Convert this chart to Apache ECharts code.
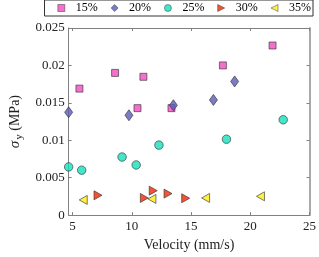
<!DOCTYPE html>
<html><head><meta charset="utf-8">
<script src="https://cdn.jsdelivr.net/npm/echarts@6/dist/echarts.min.js"></script>
<style>html,body{margin:0;padding:0;background:#fff}#c{width:319px;height:257px}</style>
</head><body><div id="c"></div>
<script>
const seriesNames = ['15%', '20%', '25%', '30%', '35%'];
const v15 = [5.58, 8.59, 10.98, 10.48, 13.35, 17.69, 21.88];
const s15 = [0.0169, 0.0190, 0.01848, 0.01429, 0.01429, 0.0200, 0.02266];
const v20 = [4.67, 9.76, 13.51, 16.89, 18.68];
const s20 = [0.01374, 0.01334, 0.01468, 0.01539, 0.01786];
const v25 = [4.67, 5.77, 9.18, 10.37, 12.29, 17.99, 22.78];
const s25 = [0.00644, 0.00600, 0.00776, 0.00670, 0.00935, 0.01014, 0.01274];
const v30 = [7.15, 11.06, 11.81, 13.06, 14.55];
const s30 = [0.00265, 0.00229, 0.00327, 0.00287, 0.00225];
const v35 = [5.90, 11.70, 16.23, 20.86];
const s35 = [0.00203, 0.00216, 0.00229, 0.00251];
const xTicks = [5, 10, 15, 20, 25];

const zip = (a, b) => a.map((x, i) => [x, b[i]]);
const font = 'Liberation Serif';
const axisCol = '#808080';
const triRight = 'path://M0,0 L10,5 L0,10 Z';
const triLeft = 'path://M10,0 L0,5 L10,10 Z';
const chart = echarts.init(document.getElementById('c'), null, {renderer: 'canvas'});
const mk = (name, data, symbol, size, color) => ({
  name, type: 'scatter', data, symbol, symbolSize: size,
  itemStyle: {color, borderColor: '#333', borderWidth: 0.8},
  xAxisIndex: 0, yAxisIndex: 0
});
const commonX = {
  type: 'value', min: 4.67, max: 25,
  axisLine: {show: true, onZero: false, lineStyle: {color: axisCol, width: 1}},
  splitLine: {show: false}
};
chart.setOption({
  animation: false,
  grid: {left: 57, right: 7, top: 28, bottom: 39, containLabel: false},
  legend: {
    right: 6, top: 0,
    data: [
      {name: '15%', icon: 'rect'},
      {name: '20%', icon: 'diamond'},
      {name: '25%', icon: 'circle'},
      {name: '30%', icon: triRight},
      {name: '35%', icon: triLeft}
    ],
    itemWidth: 7, itemHeight: 7, itemGap: 13,
    itemStyle: {borderWidth: 0.6, borderColor: '#333'},
    borderColor: '#333', borderWidth: 1, padding: [2, 2, 2, 13],
    textStyle: {fontFamily: font, fontSize: 12, color: '#000', padding: [0, 0, 0, 6]}
  },
  xAxis: [
    Object.assign({}, commonX, {
      position: 'bottom',
      name: 'Velocity (mm/s)', nameLocation: 'middle', nameGap: 21,
      nameTextStyle: {fontFamily: font, fontSize: 14, color: '#222'},
      axisTick: {show: true, inside: true, length: 3, customValues: xTicks, lineStyle: {color: axisCol}},
      axisLabel: {customValues: xTicks, fontFamily: font, fontSize: 13, color: '#222', margin: 5}
    }),
    Object.assign({}, commonX, {
      position: 'top',
      axisTick: {show: true, inside: true, length: 3, customValues: xTicks, lineStyle: {color: axisCol}},
      axisLabel: {show: false, customValues: xTicks}
    })
  ],
  yAxis: [
    {
      type: 'value', min: 0, max: 0.025, interval: 0.005, position: 'left',
      name: '{s|σ}{sub|y}{n| (MPa)}', nameLocation: 'middle', nameGap: 42, nameRotate: 90,
      nameTextStyle: {
        fontFamily: font, fontSize: 14, color: '#222',
        rich: {
          s: {fontFamily: font, fontSize: 15, fontStyle: 'italic', color: '#222'},
          sub: {fontFamily: font, fontSize: 11, color: '#222', padding: [7, 0, 0, 1]},
          n: {fontFamily: font, fontSize: 14, color: '#222'}
        }
      },
      axisLine: {show: true, lineStyle: {color: axisCol}},
      axisTick: {show: true, inside: true, length: 3, lineStyle: {color: axisCol}},
      axisLabel: {fontFamily: font, fontSize: 13, color: '#222', margin: 4},
      splitLine: {show: false}
    },
    {
      type: 'value', min: 0, max: 0.025, interval: 0.005, position: 'right',
      axisLine: {show: true, lineStyle: {color: '#aaa', width: 2}},
      axisTick: {show: true, inside: true, length: 3, lineStyle: {color: axisCol}},
      axisLabel: {show: false},
      splitLine: {show: false}
    }
  ],
  series: [
    mk('15%', zip(v15, s15), 'rect', 7, '#f04cc0'),
    mk('20%', zip(v20, s20), 'diamond', [8, 11], '#5a5ab8'),
    mk('25%', zip(v25, s25), 'circle', 8.5, '#14e0bc'),
    mk('30%', zip(v30, s30), triRight, [8, 9], '#f02800'),
    mk('35%', zip(v35, s35), triLeft, [8, 9], '#ffee10')
  ]
});
</script></body></html>
